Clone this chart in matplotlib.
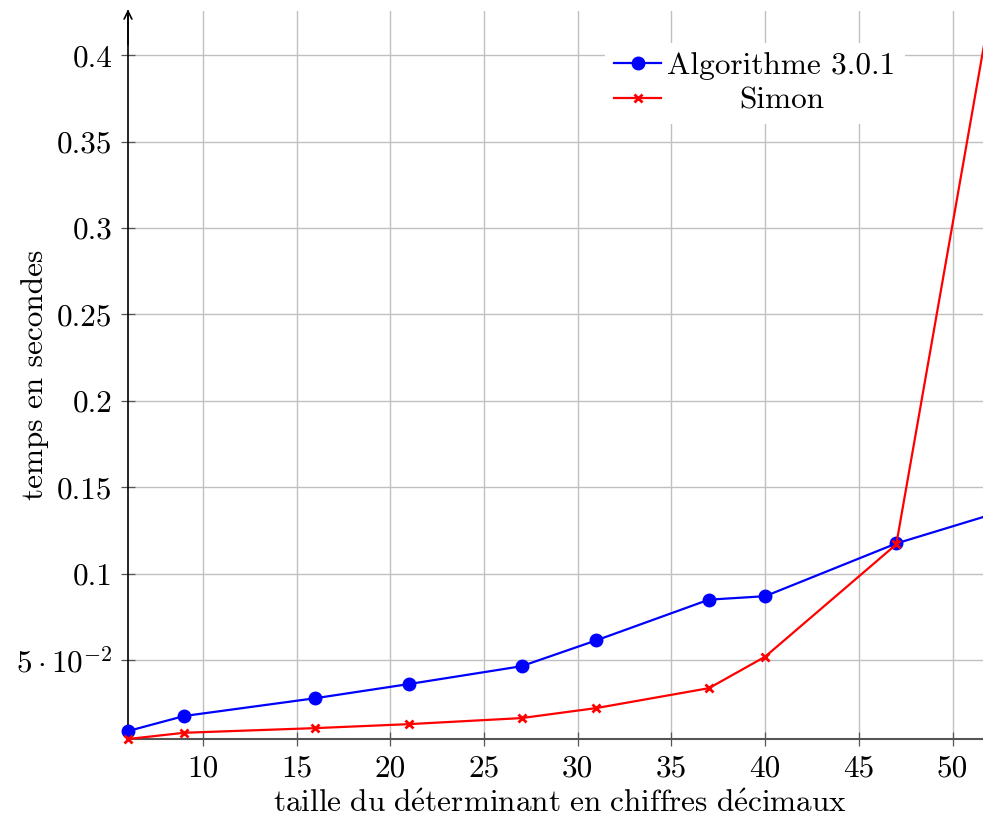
import matplotlib
matplotlib.use("Agg")
import matplotlib.pyplot as plt
from matplotlib.ticker import FixedLocator, FixedFormatter

plt.rcParams['font.family'] = 'serif'
plt.rcParams['font.serif'] = ['cmr10']
plt.rcParams['mathtext.fontset'] = 'cm'
plt.rcParams['axes.unicode_minus'] = False

# data
x_algo = [6, 9, 16, 21, 27, 31, 37, 40, 47, 52]
y_algo = [0.009, 0.0177, 0.028, 0.0362, 0.0465, 0.0615, 0.085, 0.087, 0.1175, 0.134]
x_simon = [6, 9, 16, 21, 27, 31, 37, 40, 47, 52]
y_simon = [0.0044, 0.008, 0.0107, 0.013, 0.0165, 0.0223, 0.0338, 0.052, 0.117, 0.4255]

xticks = [10, 15, 20, 25, 30, 35, 40, 45, 50]
xticklabels = ['10', '15', '20', '25', '30', '35', '40', '45', '50']
yticks = [0.05, 0.1, 0.15, 0.2, 0.25, 0.3, 0.35, 0.4]
yticklabels = [r'$5\cdot10^{-2}$', '0.1', '0.15', '0.2', '0.25', '0.3', '0.35', '0.4']

FS = 22.5
W, H = 983, 819
fig = plt.figure(figsize=(W / 100, H / 100), dpi=100)
left, right, top, bottom = 128, 990, 11, 739
ax = fig.add_axes([left / W, (H - bottom) / H, (right - left) / W, (bottom - top) / H])

ax.plot(x_algo, y_algo, color='blue', lw=1.6, marker='o', ms=9,
        label='Algorithme 3.0.1', zorder=3, clip_on=False)
ax.plot(x_simon, y_simon, color='red', lw=1.6, marker='x', ms=6, mew=2,
        label='Simon', zorder=4, clip_on=False)

ax.set_xlim(6, 52)
ax.set_ylim(0.0044, 0.4255)

ax.xaxis.set_major_locator(FixedLocator(xticks))
ax.xaxis.set_major_formatter(FixedFormatter(xticklabels))
ax.yaxis.set_major_locator(FixedLocator(yticks))
ax.yaxis.set_major_formatter(FixedFormatter(yticklabels))

ax.grid(True, color='#c0c0c0', lw=1.0)
ax.set_axisbelow(True)

for s in ['top', 'right']:
    ax.spines[s].set_visible(False)
ax.spines['left'].set_color('black')
ax.spines['left'].set_linewidth(1.2)
ax.spines['bottom'].set_color('#555555')
ax.spines['bottom'].set_linewidth(1.5)

ax.tick_params(axis='y', direction='inout', length=10, width=0.9, labelsize=FS, pad=6, color='#555555')
ax.tick_params(axis='x', direction='inout', length=10, width=0.9, labelsize=FS, pad=6, color='#555555')

ax.annotate('', xy=(0, 1.006), xytext=(0, 0.95), xycoords='axes fraction',
            arrowprops=dict(arrowstyle='->', color='black', lw=1.2, mutation_scale=14))

ax.set_xlabel(r'$\mathrm{taille\ du\ d\acute{e}terminant\ en\ chiffres\ d\acute{e}cimaux}$', fontsize=FS)
ax.set_ylabel('temps en secondes', fontsize=FS, va='center')
ax.xaxis.set_label_coords((560 - left) / (right - left), -(790 - bottom) / (bottom - top))
ax.yaxis.set_label_coords((35 - left) / (right - left), 0.5)

leg = ax.legend(loc='upper right', bbox_to_anchor=((905 - left) / (right - left), 1 - (43 - top) / (bottom - top)),
                borderaxespad=0,
                fontsize=FS, frameon=True, fancybox=False, edgecolor='white', framealpha=1,
                handlelength=1.5, handletextpad=0.2, borderpad=0.3, labelspacing=0.2)
leg.get_frame().set_linewidth(0)

fig.canvas.draw()
texts = leg.get_texts()
widths = [t.get_window_extent().width for t in texts]
wmax = max(widths)
for t, w in zip(texts, widths):
    t.set_position(((wmax - w) / 2, 0))

fig.savefig('out.png', dpi=100)
